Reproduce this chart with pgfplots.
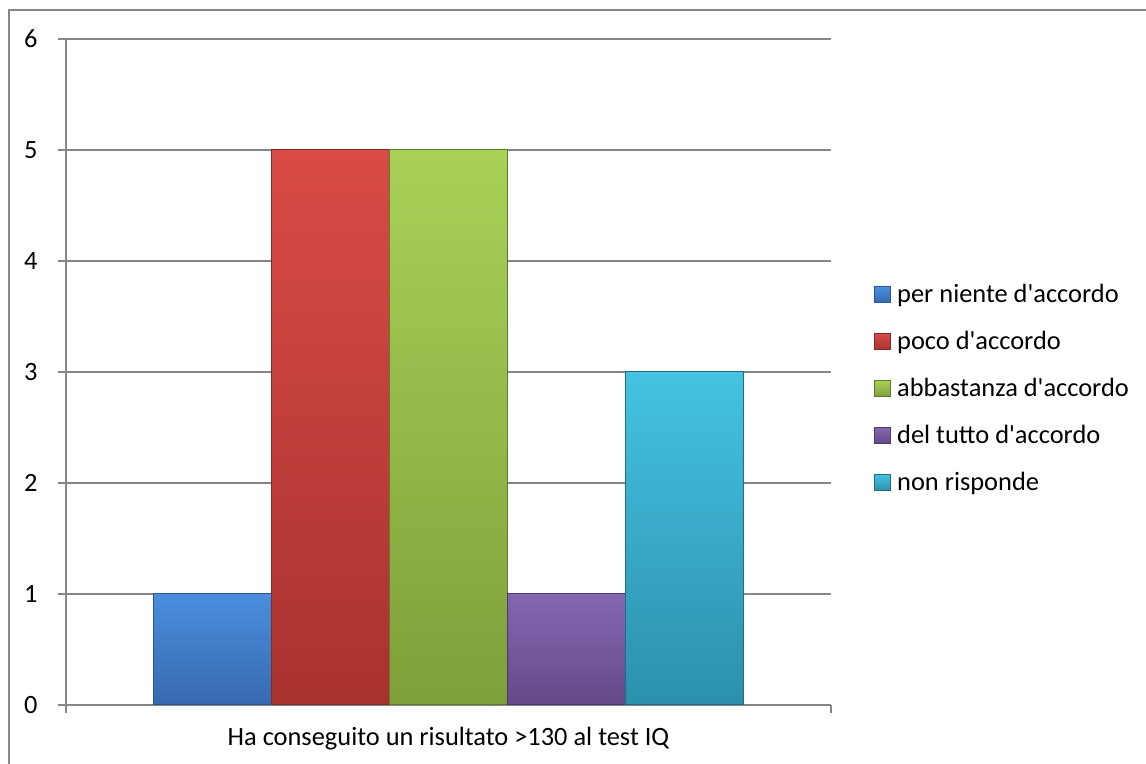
\documentclass[border=0pt]{standalone}
\usepackage{fontspec}
\setmainfont{Carlito}[Ligatures=TeXOff]
\usepackage{pgfplots}
\pgfplotsset{compat=1.18}

\definecolor{gridgray}{HTML}{868686}
\definecolor{bluetop}{HTML}{4A8EDD}
\definecolor{bluebot}{HTML}{3769B0}
\definecolor{blueedge}{HTML}{2C5690}
\definecolor{redtop}{HTML}{D94B47}
\definecolor{redbot}{HTML}{A8322F}
\definecolor{rededge}{HTML}{84282A}
\definecolor{greentop}{HTML}{A9D158}
\definecolor{greenbot}{HTML}{7F9F3A}
\definecolor{greenedge}{HTML}{5F7A2A}
\definecolor{purptop}{HTML}{8566B0}
\definecolor{purpbot}{HTML}{634A8A}
\definecolor{purpedge}{HTML}{4B386A}
\definecolor{cyantop}{HTML}{45C2E2}
\definecolor{cyanbot}{HTML}{2C90AC}
\definecolor{cyanedge}{HTML}{216E84}

\newcommand{\fnt}{\fontsize{13.2}{16}\selectfont}

\begin{document}
\begin{tikzpicture}
  \useasboundingbox (0,0) rectangle (573pt,382pt);
  % outer chart frame (only left and top edges visible)
  \draw[gridgray, line width=0.75pt] (4.5pt,-2pt) -- (4.5pt,377pt) -- (580pt,377pt);

  \begin{axis}[
    at={(33pt,29.5pt)}, anchor=south west,
    scale only axis, width=382.5pt, height=333pt,
    font=\fnt,
    ybar=0pt, bar width=59pt,
    xmin=-1, xmax=1, ymin=0, ymax=6,
    ytick={0,1,2,3,4,5,6},
    xtick={-1,1}, xticklabels={},
    extra x ticks={0},
    extra x tick labels={Ha conseguito un risultato >130 al test IQ},
    extra x tick style={major tick length=0pt,
      xticklabel style={anchor=base, yshift=-20.5pt}},
    axis x line=bottom, axis y line=left,
    axis line style={-, gridgray, line width=0.75pt},
    tick style={gridgray, line width=0.75pt},
    major tick length=4pt, tick align=outside,
    ymajorgrids, grid style={gridgray, line width=0.75pt},
    yticklabel style={anchor=east, inner sep=0pt, xshift=-10pt},
    /pgf/number format/assume math mode=true,
    legend style={at={(1,0.475)}, anchor=west, xshift=18.5pt,
      draw=none, fill=none, font=\fnt, row sep=8.8pt,
      nodes={inner sep=2pt, anchor=west},
      /tikz/every odd column/.append style={column sep=1pt}},
    legend cell align=left,
    legend image code/.code={
      \draw[#1, line width=0.4pt] (0pt,-4pt) rectangle (8pt,4pt);},
  ]
  \addplot[draw=blueedge, top color=bluetop, bottom color=bluebot, line width=0.5pt]
    coordinates {(0,1)};
  \addlegendentry{per niente d'accordo}
  \addplot[draw=rededge, top color=redtop, bottom color=redbot, line width=0.5pt]
    coordinates {(0,5)};
  \addlegendentry{poco d'accordo}
  \addplot[draw=greenedge, top color=greentop, bottom color=greenbot, line width=0.5pt]
    coordinates {(0,5)};
  \addlegendentry{abbastanza d'accordo}
  \addplot[draw=purpedge, top color=purptop, bottom color=purpbot, line width=0.5pt]
    coordinates {(0,1)};
  \addlegendentry{del tutto d'accordo}
  \addplot[draw=cyanedge, top color=cyantop, bottom color=cyanbot, line width=0.5pt]
    coordinates {(0,3)};
  \addlegendentry{non risponde}
  \end{axis}
\end{tikzpicture}
\end{document}
